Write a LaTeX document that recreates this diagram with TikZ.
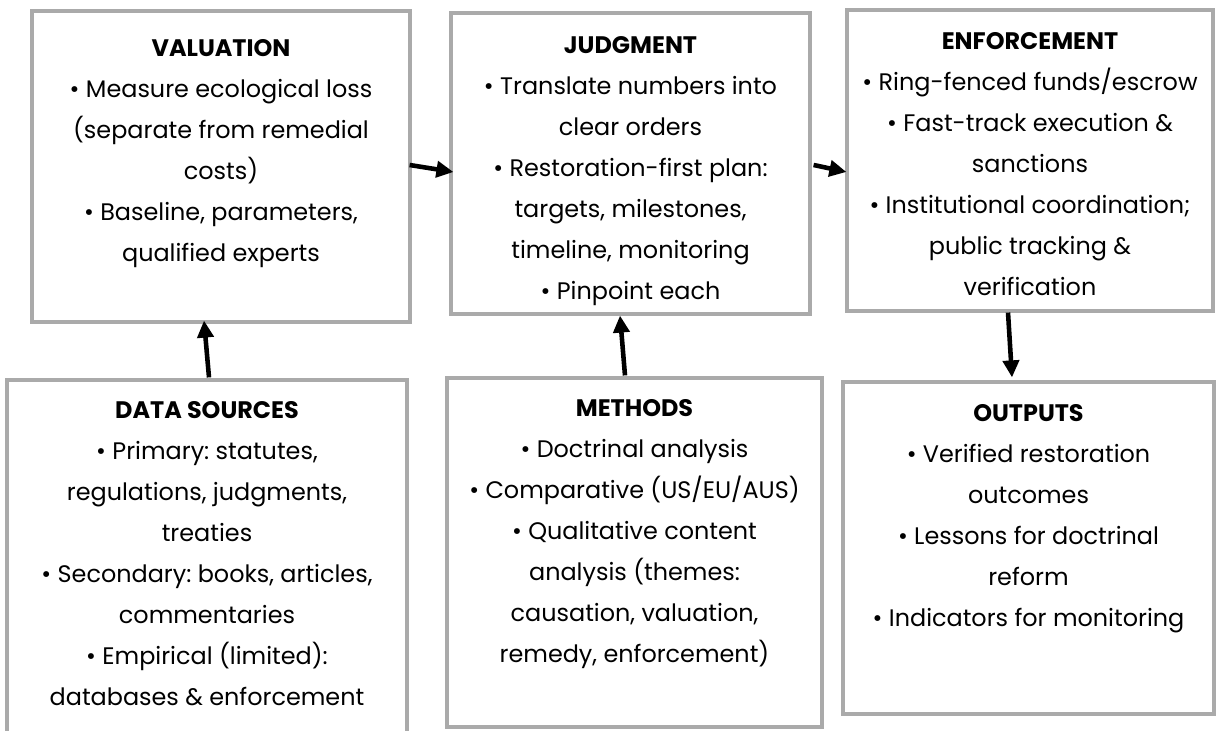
\documentclass[tikz,border=0pt]{standalone}
\usepackage{fontspec}
\setmainfont{Poppins}
\usepackage{tikz}
\usetikzlibrary{arrows.meta, positioning}
\definecolor{boxgray}{RGB}{170,170,170}
\frenchspacing

\begin{document}
\begin{tikzpicture}[
    box/.style={draw=boxgray, line width=0.9pt, inner sep=0pt},
    txt/.style={align=center, inner sep=0pt, font=\fontsize{6.8}{11.7}\selectfont},
    arr/.style={-{Triangle[length=0.17cm, width=0.16cm]}, line width=1.3pt}
  ]
  \useasboundingbox (0, 0) rectangle (12.16, 7.31);
  \clip (0, 0) rectangle (12.16, 7.31);

  % Boxes
  \node[box, minimum width=3.78cm, minimum height=3.11cm] (val) at (2.21, 5.645) {};
  \node[box, minimum width=3.59cm, minimum height=3.01cm] (jud) at (6.305, 5.675) {};
  \node[box, minimum width=3.66cm, minimum height=3.01cm] (enf) at (10.30, 5.705) {};
  \node[box, minimum width=4.00cm, minimum height=3.71cm] (src) at (2.07, 1.655) {};
  \node[box, minimum width=3.75cm, minimum height=3.49cm] (met) at (6.345, 1.785) {};
  \node[box, minimum width=3.71cm, minimum height=3.32cm] (outp) at (10.285, 1.83) {};

  % Texts
  \node[txt, below=0.29cm of val.north] (valtxt) {\textbf{VALUATION}\\
    • Measure ecological loss\\ (separate from remedial\\ costs)\\
    • Baseline, parameters,\\ qualified experts};
  \node[txt, below=0.24cm of jud.north] (judtxt) {\textbf{JUDGMENT}\\
    • Translate numbers into\\ clear orders\\
    • Restoration-first plan:\\ targets, milestones,\\ timeline, monitoring\\
    • Pinpoint each};
  \node[txt, below=0.23cm of enf.north] (enftxt) {\textbf{ENFORCEMENT}\\
    • Ring-fenced funds/escrow\\
    • Fast-track execution \&\\ sanctions\\
    • Institutional coordination;\\ public tracking \&\\ verification};
  \node[txt, below=0.22cm of src.north] (srctxt) {\textbf{DATA SOURCES}\\
    • Primary: statutes,\\ regulations, judgments,\\ treaties\\
    • Secondary: books, articles,\\ commentaries\\
    • Empirical (limited):\\ databases \& enforcement};
  \node[txt, below=0.22cm of met.north] (mettxt) {\textbf{METHODS}\\
    • Doctrinal analysis\\
    • Comparative (US/EU/AUS)\\
    • Qualitative content\\ analysis (themes:\\ causation, valuation,\\ remedy, enforcement)};
  \node[txt, below=0.23cm of outp.north] (outptxt) {\textbf{OUTPUTS}\\
    • Verified restoration\\ outcomes\\
    • Lessons for doctrinal\\ reform\\
    • Indicators for monitoring};

  % Arrows
  \draw[arr] ([shift={(-0.02, 0.015)}]val.east) -- ([shift={(0.04, -0.085)}]jud.west);
  \draw[arr] ([shift={(0.02, -0.015)}]jud.east) -- ([shift={(0.01, -0.115)}]enf.west);
  \draw[arr] ([shift={(-0.22, 0)}]enf.south) -- ([shift={(-0.165, 0.03)}]outp.north);
  \draw[arr] ([shift={(0.02, 0.01)}]src.north) -- ([shift={(-0.17, 0.03)}]val.south);
  \draw[arr] ([shift={(-0.095, 0.01)}]met.north) -- ([shift={(-0.105, 0)}]jud.south);
\end{tikzpicture}
\end{document}
